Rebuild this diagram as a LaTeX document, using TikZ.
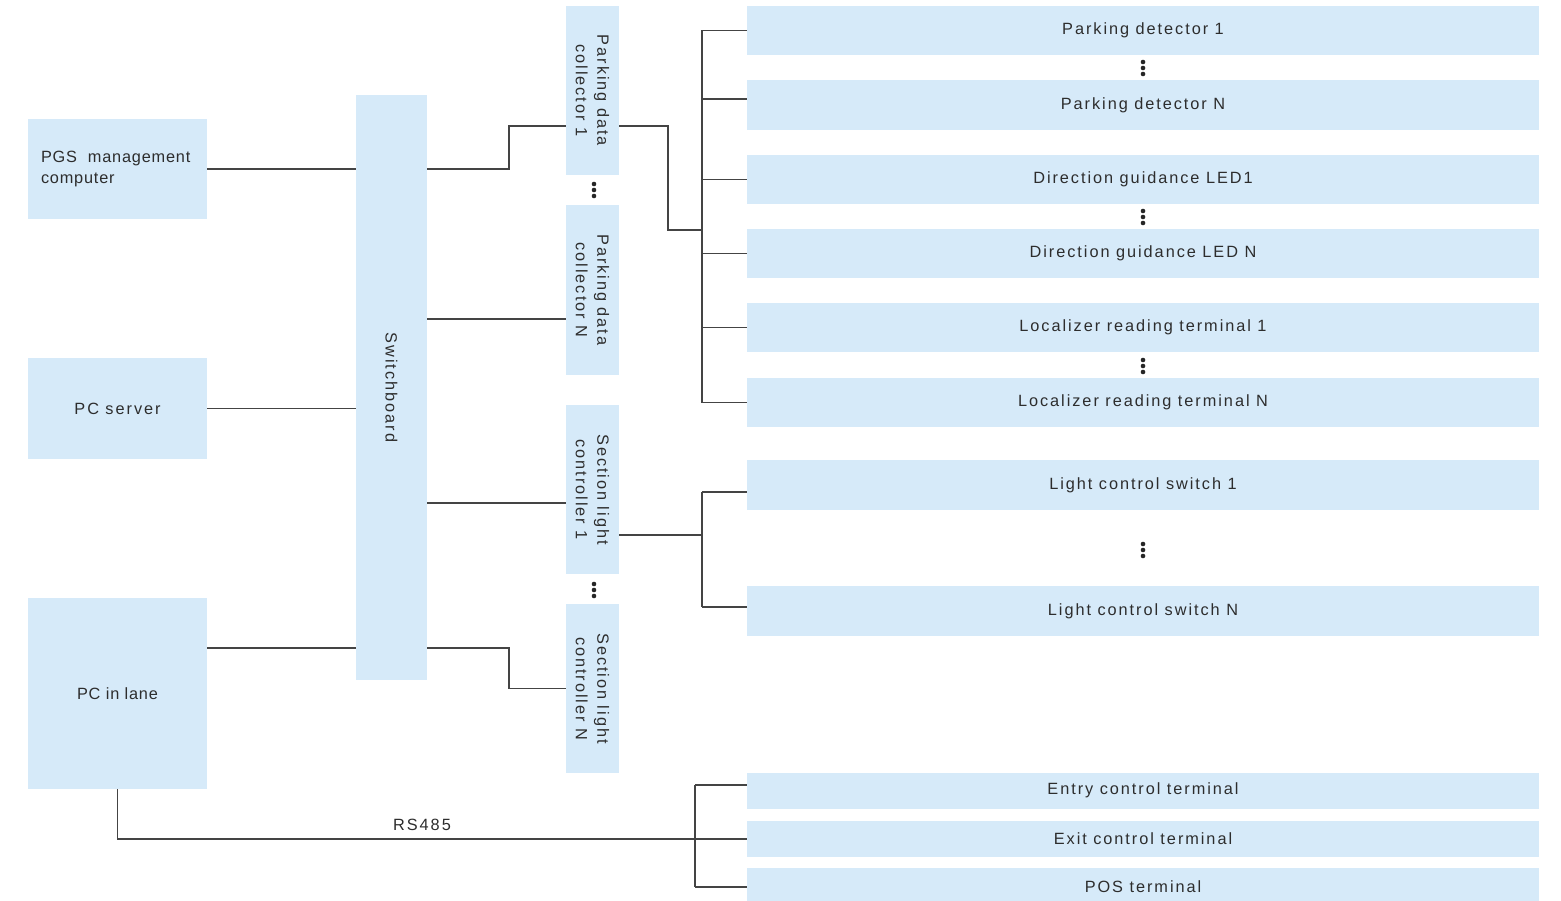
\documentclass[tikz,border=0pt]{standalone}
\usepackage{fontspec}
\setmainfont{Liberation Sans}[LetterSpace=12]
\newfontfamily\tightfont{Liberation Sans}[LetterSpace=5]
\definecolor{boxblue}{RGB}{214,234,249}
\definecolor{txtc}{RGB}{45,45,45}
\definecolor{linec}{RGB}{68,68,68}
\newcommand\fsz{\fontsize{16.3}{21.5}\selectfont}
\tikzset{
  box/.style={fill=boxblue, draw=none, text=txtc, font=\fsz, inner sep=0pt, align=center},
  rbox/.style={box, minimum width=792pt, minimum height=49pt},
  vbox/.style={box, rotate=-90, minimum height=53pt, minimum width=169pt},
  conn/.style={draw=linec, line width=1.6pt},
  dotc/.style={fill=black!85}
}
\begin{document}
\begin{tikzpicture}[x=1pt,y=-1pt]
\useasboundingbox[fill=white] (0,0) rectangle (1561,901);

% left column
\node[box, minimum width=179pt, minimum height=100pt, text width=153pt, align=left, font=\fsz\tightfont] (pgs) at (117.5,169) {PGS\ \ management\\computer};
\node[box, minimum width=179pt, minimum height=101pt] (psrv) at (117.5,408.5) {PC server};
\node[box, minimum width=179pt, minimum height=191pt, font=\fsz\tightfont] (plane) at (117.5,693.5) {PC in lane};

% switchboard (rotated: south = left side, north = right side)
\node[box, rotate=-90, minimum width=585pt, minimum height=71pt] (sw) at (391.5,387.5) {Switchboard};

% collectors / controllers (rotated)
\node[vbox] (pdc1) at (592.5,90.5) {Parking data\\collector 1};
\node[vbox, minimum width=170pt] (pdcN) at (592.5,290) {Parking data\\collector N};
\node[vbox] (slc1) at (592.5,489.5) {Section light\\controller 1};
\node[vbox] (slcN) at (592.5,688.5) {Section light\\controller N};

% right column
\node[rbox] (pd1) at (1143,30.5) {Parking detector 1};
\node[rbox, minimum height=50pt] (pdN) at (1143,105) {Parking detector N};
\node[rbox] (dg1) at (1143,179.5) {Direction guidance LED1};
\node[rbox] (dgN) at (1143,253.5) {Direction guidance LED N};
\node[rbox] (loc1) at (1143,327.5) {Localizer reading terminal 1};
\node[rbox] (locN) at (1143,402.5) {Localizer reading terminal N};
\node[rbox, minimum height=50pt] (lc1) at (1143,485) {Light control switch 1};
\node[rbox, minimum height=50pt] (lcN) at (1143,611) {Light control switch N};
\node[rbox, minimum height=36pt] (entry) at (1143,790.5) {Entry control terminal};
\node[rbox, minimum height=36pt] (exit) at (1143,839) {Exit control terminal};
\node[rbox, minimum height=38pt] (pos) at (1143,887) {POS terminal};

% ellipsis dots
\foreach \y in {68,217,366,550}
  \foreach \d in {-6,0,6}
    \fill[dotc] (1143,\y+\d) circle (2.3pt);
\foreach \y in {190,590}
  \foreach \d in {-6,0,6}
    \fill[dotc] (594,\y+\d) circle (2.3pt);

% helper coordinates
\coordinate (pl) at ([yshift=45.5pt]plane.east);
\coordinate (a1) at ([yshift=-35.5pt]pdc1.south);
\coordinate (a2) at ([yshift=-29pt]pdcN.south);
\coordinate (a3) at ([yshift=-13.5pt]slc1.south);
\coordinate (b1) at ([yshift=-35.5pt]pdc1.north);
\coordinate (b2) at ([yshift=-45.5pt]slc1.north);
\coordinate (bx1) at (702,230);
\coordinate (bx3) at (695,838);
\coordinate (c2) at ([yshift=6pt]pdN.west);
\coordinate (d1) at ([yshift=-7pt]lc1.west);
\coordinate (d2) at ([yshift=4pt]lcN.west);
\coordinate (e1) at ([yshift=5.5pt]entry.west);

% left to switchboard
\draw[conn] (pgs.east) -- (pgs.east -| sw.south);
\draw[conn] (psrv.east) -- (psrv.east -| sw.south);
\draw[conn] (pl) -- (pl -| sw.south);

% switchboard to collectors / controllers
\draw[conn] (sw.north |- pgs.east) -- ++(82,0) |- (a1);
\draw[conn] (sw.north |- a2) -- (a2);
\draw[conn] (sw.north |- a3) -- (a3);
\draw[conn] (sw.north |- pl) -- ++(82,0) |- (slcN.south);

% collector 1 to field devices
\draw[conn] (b1) -- ++(49,0) |- (bx1);
\draw[conn] (bx1 |- pd1.west) -- (bx1 |- locN.west);
\foreach \n in {pd1,dg1,dgN,loc1,locN}
  \draw[conn] (bx1 |- \n.west) -- (\n.west);
\draw[conn] (bx1 |- c2) -- (c2);

% controller 1 to light switches
\draw[conn] (b2) -- (b2 -| bx1);
\draw[conn] (bx1 |- d1) -- (bx1 |- d2);
\draw[conn] (bx1 |- d1) -- (d1);
\draw[conn] (bx1 |- d2) -- (d2);

% RS485 bus
\draw[conn] (plane.south) |- (exit.west);
\draw[conn] (bx3 |- e1) -- (bx3 |- pos.west);
\draw[conn] (bx3 |- e1) -- (e1);
\draw[conn] (bx3 |- pos.west) -- (pos.west);
\node[text=txtc, font=\fsz, inner sep=0pt] (rs) at (422,825) {RS485};
\end{tikzpicture}
\end{document}
